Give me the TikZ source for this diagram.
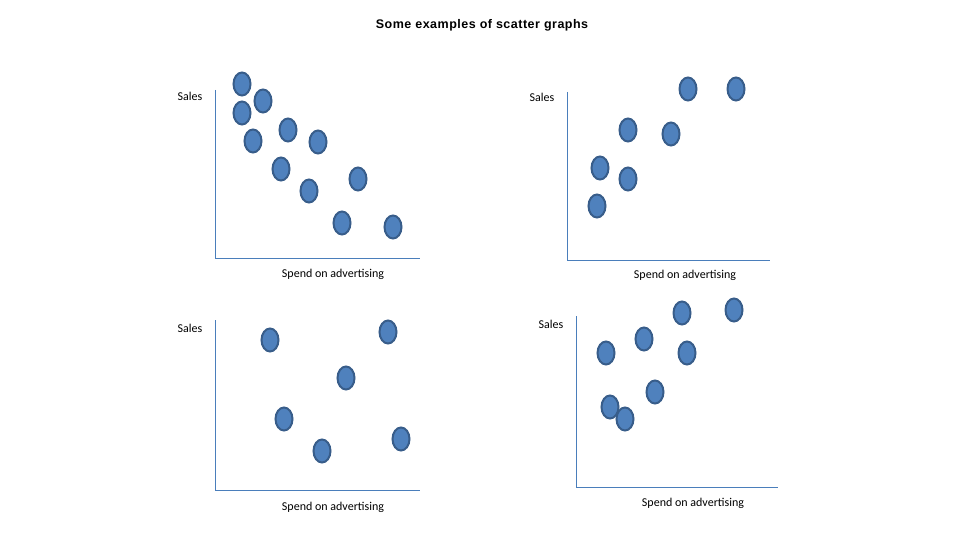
\documentclass[tikz,border=0pt]{standalone}
\usepackage{fontspec}
\setmainfont{Carlito}
\newfontfamily\titlefont[LetterSpace=4]{Liberation Sans}
\definecolor{dotfill}{HTML}{4F81BD}
\definecolor{dotline}{HTML}{385D8A}
\definecolor{axiscol}{HTML}{4A7EBB}
\tikzset{
  dot/.style={ellipse, draw=dotline, line width=2pt, fill=dotfill, minimum width=17pt, minimum height=23pt, inner sep=0pt},
  axis/.style={draw=axiscol, line width=0.8pt},
  lbl/.style={font=\fontsize{12}{14}\selectfont}
}
\usetikzlibrary{shapes.geometric}
\begin{document}
\begin{tikzpicture}[x=1pt, y=-1pt]
	\useasboundingbox (0,0) rectangle (960,540);
	\node[font=\titlefont\bfseries\fontsize{12.5}{15}\selectfont] (title) at (482,25) {Some examples of scatter graphs};

	% top left
	\coordinate (a top) at (215,90); \coordinate (a org) at (215,258); \coordinate (a end) at (420,258);
	\draw[axis] (a top) -- (a org) -- (a end);
	\node[lbl] (a y) at (190,96) {Sales};
	\node[lbl] (a x) at (333,274) {Spend on advertising};
	\foreach \x/\y in {242/84, 263/101, 242/113, 253/141, 288/130, 318/142, 281/169, 309/191, 358/179, 342/223, 393/227}
		\node[dot] at (\x,\y) {};

	% top right
	\coordinate (b top) at (567,92); \coordinate (b org) at (567,260); \coordinate (b end) at (770,260);
	\draw[axis] (b top) -- (b org) -- (b end);
	\node[lbl] (b y) at (542,97) {Sales};
	\node[lbl] (b x) at (685,275) {Spend on advertising};
	\foreach \x/\y in {688/89, 736/89, 628/130, 671/134, 600/168, 628/179, 597/206}
		\node[dot] at (\x,\y) {};

	% bottom left
	\coordinate (c top) at (215,320); \coordinate (c org) at (215,490); \coordinate (c end) at (420,490);
	\draw[axis] (c top) -- (c org) -- (c end);
	\node[lbl] (c y) at (190,328) {Sales};
	\node[lbl] (c x) at (333,507) {Spend on advertising};
	\foreach \x/\y in {270/340, 388/332, 346/378, 284/419, 322/451, 401/439}
		\node[dot] at (\x,\y) {};

	% bottom right
	\coordinate (d top) at (576,316); \coordinate (d org) at (576,487); \coordinate (d end) at (778,487);
	\draw[axis] (d top) -- (d org) -- (d end);
	\node[lbl] (d y) at (551,324) {Sales};
	\node[lbl] (d x) at (693,503) {Spend on advertising};
	\foreach \x/\y in {682/313, 734/310, 644/339, 606/353, 687/353, 655/392, 610/407, 625/419}
		\node[dot] at (\x,\y) {};
\end{tikzpicture}
\end{document}
